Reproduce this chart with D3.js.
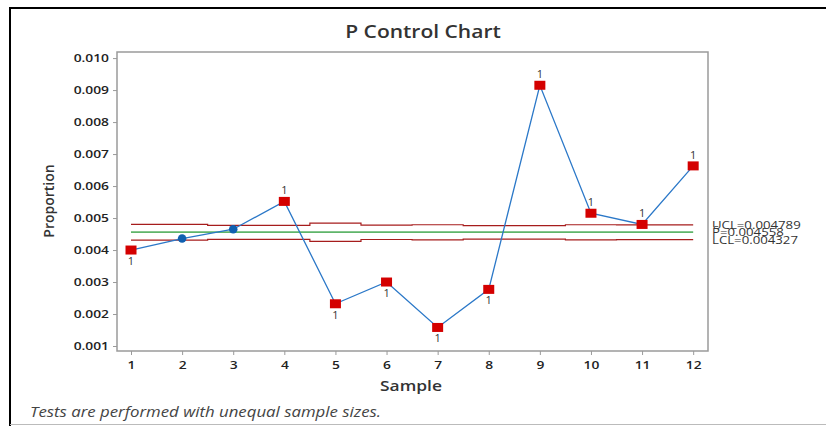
<!DOCTYPE html>
<html><head><meta charset="utf-8">
<script src="https://cdn.jsdelivr.net/npm/d3@7/dist/d3.min.js"></script>
<style>body{margin:0;background:#fff}svg{display:block}</style>
</head><body>
<svg id="c" width="826" height="426"></svg>
<script>
const samples = [1,2,3,4,5,6,7,8,9,10,11,12];
const proportions = [0.00400,0.00436,0.00465,0.00552,0.00232,0.00300,0.00158,0.00277,0.00915,0.00515,0.00480,0.00663];
const failed = [true,false,false,true,true,true,true,true,true,true,true,true];
const centerP = 0.004558;
const uclValues = [0.004800,0.004800,0.004770,0.004770,0.004840,0.004780,0.004790,0.004760,0.004760,0.004790,0.004789,0.004789];
const lclValues = [0.004310,0.004310,0.004335,0.004335,0.004270,0.004330,0.004320,0.004338,0.004338,0.004320,0.004327,0.004327];
const yTicks = [0.001,0.002,0.003,0.004,0.005,0.006,0.007,0.008,0.009,0.010];
const limitLabels = ["UCL=0.004789","P\u0304=0.004558","LCL=0.004327"];

const svg = d3.select("#c");
const font = "'Open Sans', sans-serif";
const STRETCH = 1.2;
function stretch(sel){
  sel.each(function(){
    const w=this.getComputedTextLength();
    d3.select(this).attr("textLength",w*STRETCH).attr("lengthAdjust","spacingAndGlyphs");
  });
  return sel;
}
// outer frame
svg.append("line").attr("x1",10).attr("x2",826).attr("y1",8).attr("y2",8).attr("stroke","#000").attr("stroke-width",2);
svg.append("line").attr("x1",10).attr("x2",10).attr("y1",7).attr("y2",426).attr("stroke","#000").attr("stroke-width",2);
svg.append("line").attr("x1",10).attr("x2",826).attr("y1",424.5).attr("y2",424.5).attr("stroke","#bbb").attr("stroke-width",1);

const L=117,R=708,T=52,B=351;
const x = d3.scaleLinear().domain([0.726,12.29]).range([L,R]);
const y = d3.scaleLinear().domain([0.000844,0.01019]).range([B,T]);

svg.append("rect").attr("x",L).attr("y",T).attr("width",R-L).attr("height",B-T)
  .attr("fill","none").attr("stroke","#9a9a9a").attr("stroke-width",1.5);

const yAxis = svg.append("g").attr("transform",`translate(${L},0)`)
  .call(d3.axisLeft(y).tickValues(yTicks).tickFormat(d3.format(".3f")).tickSize(4).tickPadding(4));
const xAxis = svg.append("g").attr("transform",`translate(0,${B})`)
  .call(d3.axisBottom(x).tickValues(samples).tickFormat(d3.format("d")).tickSize(4).tickPadding(6));
[yAxis,xAxis].forEach(g=>{
  g.select(".domain").remove();
  g.selectAll(".tick line").attr("stroke","#9a9a9a");
  g.selectAll("text").attr("font-family",font).attr("font-size",11.5).attr("font-weight",600).attr("fill","#222");
  stretch(g.selectAll("text"));
});

// control limits
const stepLine = d3.line().x((d,i)=>x(samples[i])).y(d=>y(d)).curve(d3.curveStep);
svg.append("path").datum(uclValues).attr("d",stepLine).attr("fill","none").attr("stroke","#a61c1c").attr("stroke-width",1.2);
svg.append("path").datum(lclValues).attr("d",stepLine).attr("fill","none").attr("stroke","#a61c1c").attr("stroke-width",1.2);
svg.append("line").attr("x1",x(1)).attr("x2",x(12)).attr("y1",y(centerP)).attr("y2",y(centerP))
  .attr("stroke","#5fb56a").attr("stroke-width",1.8);

// data line
const line = d3.line().x((d,i)=>x(samples[i])).y(d=>y(d));
svg.append("path").datum(proportions).attr("d",line).attr("fill","none").attr("stroke","#2b78c8").attr("stroke-width",1.3);

proportions.forEach((v,i)=>{
  const cx=x(samples[i]), cy=y(v);
  if(failed[i]){
    svg.append("rect").attr("x",cx-5.5).attr("y",cy-4.5).attr("width",11).attr("height",9).attr("fill","#d40000");
    const above = v > centerP;
    svg.append("text").attr("x",cx).attr("y",above?cy-7:cy+15).attr("text-anchor","middle")
      .attr("font-family",font).attr("font-size",11).attr("fill","#333").text("1");
  } else {
    svg.append("circle").attr("cx",cx).attr("cy",cy).attr("r",4.3).attr("fill","#1060b0");
  }
});

// limit labels
const labelYs=[y(uclValues[11]),y(centerP),y(lclValues[11])];
limitLabels.forEach((t,i)=>{
  stretch(svg.append("text").attr("x",712).attr("y",labelYs[i]+4).attr("font-family",font).attr("font-size",11)
    .attr("fill","#333").text(t));
});

stretch(svg.append("text").attr("x",423).attr("y",38).attr("text-anchor","middle").attr("font-family",font)
  .attr("font-size",17.5).attr("font-weight",600).attr("fill","#333").text("P Control Chart"));
stretch(svg.append("text").attr("x",411).attr("y",391).attr("text-anchor","middle").attr("font-family",font)
  .attr("font-size",14.5).attr("font-weight",600).attr("fill","#333").text("Sample"));
svg.append("text").attr("transform","translate(54,201) rotate(-90)").attr("text-anchor","middle").attr("font-family",font)
  .attr("font-size",14).attr("font-weight",600).attr("fill","#333").text("Proportion");
stretch(svg.append("text").attr("x",30).attr("y",417).attr("font-family",font).attr("font-style","italic")
  .attr("font-size",14).attr("fill","#444").text("Tests are performed with unequal sample sizes."));
</script>
</body></html>
